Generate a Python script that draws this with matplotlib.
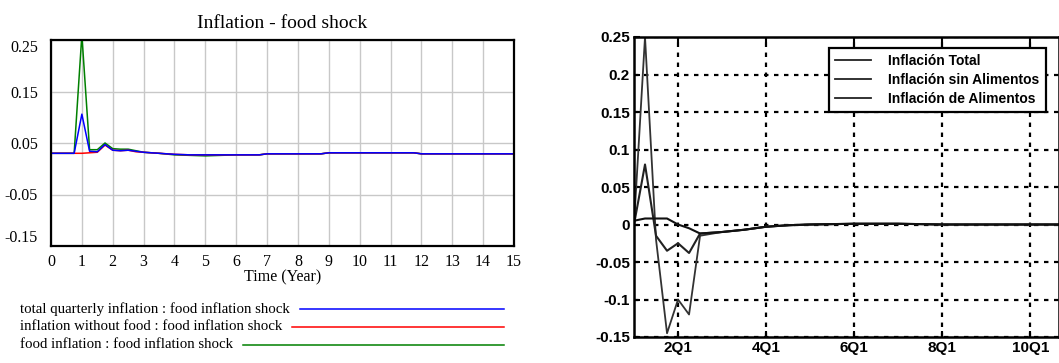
import matplotlib
matplotlib.use("Agg")
import matplotlib.pyplot as plt
from matplotlib.lines import Line2D

# left panel: simulation output (time in years)
t_year = [0, 0.75, 1, 1.25, 1.5, 1.75, 2, 2.25, 2.5, 2.75, 3, 3.5, 4, 4.5, 5,
          5.5, 6, 6.5, 6.75, 7, 8, 8.75, 9, 10, 11, 11.75, 12, 13, 14, 15]
total_infl = [0.03, 0.03, 0.106, 0.034, 0.033, 0.047, 0.036, 0.035, 0.036, 0.034,
              0.032, 0.030, 0.028, 0.027, 0.027, 0.027, 0.027, 0.027, 0.027, 0.029,
              0.029, 0.029, 0.031, 0.031, 0.031, 0.031, 0.029, 0.029, 0.029, 0.029]
nofood_infl = [0.03, 0.03, 0.03, 0.031, 0.032, 0.046, 0.036, 0.035, 0.036, 0.033,
               0.032, 0.030, 0.028, 0.027, 0.027, 0.027, 0.027, 0.027, 0.027, 0.029,
               0.029, 0.029, 0.031, 0.031, 0.031, 0.031, 0.029, 0.029, 0.029, 0.029]
food_infl = [0.03, 0.03, 0.26, 0.037, 0.037, 0.05, 0.039, 0.038, 0.038, 0.035,
             0.032, 0.030, 0.027, 0.026, 0.025, 0.026, 0.027, 0.027, 0.027, 0.029,
             0.029, 0.029, 0.031, 0.031, 0.031, 0.031, 0.029, 0.029, 0.029, 0.029]
left_labels = ["total quarterly inflation : food inflation shock",
               "inflation without food : food inflation shock",
               "food inflation : food inflation shock"]

# right panel: scanned reference (quarters since 1Q1)
q = [0, 1, 2, 3, 4, 5, 6, 8, 10, 12, 14, 16, 20, 24, 28, 32, 36, 38.6]
r_total = [0.0, 0.08, -0.015, -0.035, -0.025, -0.038, -0.012, -0.010, -0.007, -0.003,
           -0.001, 0.0, 0.001, 0.001, 0.0, 0.0, 0.0, 0.0]
r_nofood = [0.005, 0.008, 0.008, 0.008, 0.0, -0.005, -0.012, -0.010, -0.007, -0.003,
            -0.001, 0.0, 0.001, 0.001, 0.0, 0.0, 0.0, 0.0]
r_food = [0.0, 0.25, -0.02, -0.145, -0.10, -0.12, -0.015, -0.010, -0.007, -0.003,
          -0.001, 0.0, 0.001, 0.001, 0.0, 0.0, 0.0, 0.0]
r_labels = ["Inflación Total", "Inflación sin Alimentos", "Inflación de Alimentos"]
r_xticks = [4, 12, 20, 28, 36]
r_xlabels = ["2Q1", "4Q1", "6Q1", "8Q1", "10Q1"]
r_yticks = [-0.15, -0.1, -0.05, 0, 0.05, 0.1, 0.15, 0.2, 0.25]
r_ylabels = ["-0.15", "-0.1", "-0.05", "0", "0.05", "0.1", "0.15", "0.2", "0.25"]

W, H = 1059, 363
fig = plt.figure(figsize=(W / 100, H / 100), dpi=100)
serif = "Liberation Serif"

# ---- left (Vensim style)
ax = fig.add_axes([51 / W, 1 - 246 / H, (514 - 51) / W, (246 - 40) / H])
ax.plot(t_year, food_infl, color="#008000", lw=1.1)
ax.plot(t_year, nofood_infl, color="#ff0000", lw=1.1)
ax.plot(t_year, total_infl, color="#0000ff", lw=1.1)
ax.set_xlim(0, 15)
ax.set_ylim(-0.15, 0.25)
ax.set_xticks(range(16))
ax.set_xticklabels([str(i) for i in range(16)], fontfamily=serif, fontsize=11.5)
yt = [-0.15, -0.05, 0.05, 0.15, 0.25]
ax.set_yticks(yt)
ylab = ax.set_yticklabels(["-0.15", "-0.05", "0.05", "0.15", "0.25"],
                          fontfamily=serif, fontsize=11.5)
ylab[0].set_va("bottom")
ylab[-1].set_va("top")
ax.tick_params(length=0, pad=5.5)
ax.tick_params(axis="y", pad=9.5)
ax.grid(True, color="#c8c8c8", lw=1)
ax.set_axisbelow(True)
for s in ax.spines.values():
    s.set_linewidth(1.6)
ax.set_title("Inflation - food shock", fontfamily=serif, fontsize=14, pad=9)
ax.set_xlabel("Time (Year)", fontfamily=serif, fontsize=11.5, labelpad=0)

cols = ["#0000ff", "#ff0000", "#008000"]
ys = [309, 327, 345]
starts = [300, 292, 243]
for lab, c, y, x0 in zip(left_labels, cols, ys, starts):
    fig.text(20 / W, 1 - y / H, lab, fontfamily=serif, fontsize=10.7, va="center")
    fig.add_artist(Line2D([x0 / W, 504 / W], [1 - y / H, 1 - y / H], color=c, lw=1.1))

# ---- right (scanned MATLAB style)
sans = "Liberation Sans"
ax2 = fig.add_axes([634 / W, 1 - 337 / H, (W - 634) / W, (337 - 37) / H])
ax2.plot(q, r_food, color="#333333", lw=1.3)
ax2.plot(q, r_total, color="#222222", lw=1.5)
ax2.plot(q, r_nofood, color="#111111", lw=1.5)
ax2.set_xlim(0, 38.6)
ax2.set_ylim(-0.15, 0.25)
ax2.set_xticks(r_xticks)
ax2.set_xticklabels(r_xlabels, fontfamily=sans, fontweight="bold", fontsize=11)
ax2.set_yticks(r_yticks)
ax2.set_yticklabels(r_ylabels, fontfamily=sans, fontweight="bold", fontsize=11)
ax2.tick_params(direction="in", length=4, width=1.5, pad=3, top=True)
ax2.grid(True, color="black", lw=1.6, linestyle=(0, (2, 2.5)))
for s in ax2.spines.values():
    s.set_linewidth(1.8)
handles = [Line2D([], [], color="#222222", lw=1.3) for _ in r_labels]
fig.legend(handles, r_labels, loc="upper left",
           bbox_to_anchor=(829 / W, 1 - 48 / H),
           prop={"family": sans, "weight": "bold", "size": 10},
           frameon=True, fancybox=False, edgecolor="black", framealpha=1,
           handlelength=2.6, handletextpad=1.2, labelspacing=0.35,
           borderpad=0.45, borderaxespad=0)
fig.legends[0].get_frame().set_linewidth(1.6)

fig.savefig("out.png", dpi=100)
